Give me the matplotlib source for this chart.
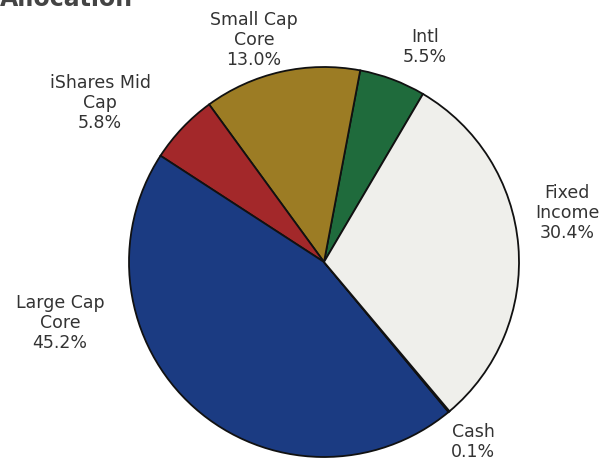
import numpy as np
import matplotlib
matplotlib.use('Agg')
import matplotlib.pyplot as plt

# 配分データ（反時計回り、Intlから）
labels = ['Intl', 'Small Cap\nCore', 'iShares Mid\nCap', 'Large Cap\nCore', 'Cash', 'Fixed\nIncome']
shares = [5.5, 13.0, 5.8, 45.2, 0.1, 30.4]
colors = ['#1f6b3c', '#9c7c24', '#a3282a', '#1b3b82', '#e8e8e4', '#efefeb']

W, H = 608, 462
fig = plt.figure(figsize=(W / 100, H / 100), dpi=100)
ax = fig.add_axes([0, 0, 1, 1])

ax.pie(shares, colors=colors, startangle=59.5, counterclock=True,
       center=(324, H - 262), radius=195,
       wedgeprops=dict(edgecolor='#111111', linewidth=1.3))

# pieがxlim/ylimを書き換えるので後で設定
ax.set_xlim(0, W)
ax.set_ylim(0, H)
ax.set_aspect('equal')
ax.axis('off')

# ラベル位置（画像上のピクセル座標）
label_pos = [(425, 47), (254, 40), (100, 103), (60, 323), (473, 442), (567, 213)]
for lab, v, (x, y) in zip(labels, shares, label_pos):
    ax.text(x, H - y, f'{lab}\n{v:.1f}%', ha='center', va='center',
            fontsize=12.5, color='#333333', linespacing=1.15,
            family='DejaVu Sans')

# 上端で切れているタイトル（下端だけ見える）
ax.text(0, H - 6, 'Allocation', ha='left', va='baseline', fontsize=17,
        fontweight='bold', color='#444444', clip_on=False)

fig.savefig('out.png', dpi=100)
